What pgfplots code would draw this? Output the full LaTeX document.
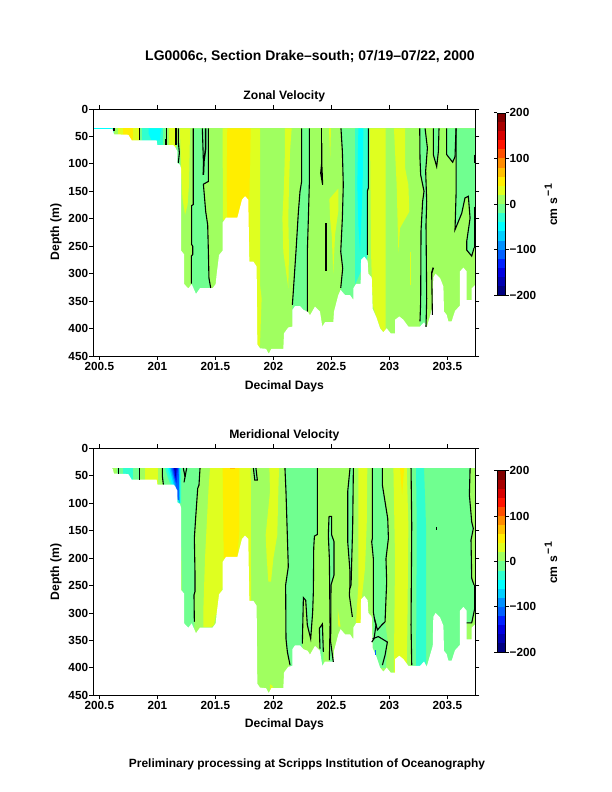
\documentclass[border=0pt]{standalone}
\usepackage{pgfplots}
\usepackage{pgfplotstable}
\usepackage{fontspec}
\setmainfont{Liberation Sans}
\pgfplotsset{compat=1.18}
\definecolor{cT}{HTML}{7F0000}\definecolor{cS}{HTML}{A80000}\definecolor{cR}{HTML}{D80000}
\definecolor{cQ}{HTML}{FF1400}\definecolor{cP}{HTML}{FF5000}\definecolor{cO}{HTML}{FF8C00}
\definecolor{cN}{HTML}{FFC000}\definecolor{Yb}{HTML}{FFEE00}\definecolor{Ya}{HTML}{DFFF20}
\definecolor{cA}{HTML}{A0FF60}\definecolor{cB}{HTML}{70FF90}\definecolor{cC}{HTML}{30FFCF}
\definecolor{cD}{HTML}{00FFFF}\definecolor{cE}{HTML}{00CFFF}\definecolor{cF}{HTML}{0090FF}
\definecolor{cG}{HTML}{0060FF}\definecolor{cH}{HTML}{0020FF}\definecolor{cI}{HTML}{0000E0}
\definecolor{cJ}{HTML}{0000B0}\definecolor{cK}{HTML}{000080}
\pgfplotstableread{
day depth
200.448 36.5
200.600 36.8
200.615 37
200.626 46
200.750 47
200.779 57
200.994 57
201.000 66
201.138 66
201.152 69
201.172 77
201.172 98.5
201.195 101.5
201.204 108
201.204 258
201.230 264.5
201.230 318.7
201.267 327
201.296 319
201.333 337
201.368 326.5
201.477 326.5
201.503 319
201.511 302
201.532 266
201.563 258
201.563 207
201.592 198
201.690 198
201.707 184
201.730 165
201.756 159
201.784 165
201.793 278
201.828 278
201.856 287
201.862 429
201.885 436
201.937 437
201.960 446
201.983 437
202.086 437
202.092 408.6
202.129 398
202.164 396.5
202.164 366
202.187 359
202.230 359
202.259 366
202.296 369
202.316 376
202.359 360
202.402 369
202.422 396.5
202.445 388.5
202.517 388.5
202.523 369
202.560 339
202.580 329.6
202.618 339
202.661 339
202.690 348
202.690 326.6
202.713 318.7
202.753 318.7
202.756 275
202.784 269
202.813 277
202.819 300
202.848 307
202.856 364
202.891 381
202.920 399.5
202.948 407
202.977 399.5
203.011 408.6
203.049 408.6
203.049 384
203.086 378
203.121 384
203.164 396.5
203.264 396.5
203.299 388.5
203.322 398
203.374 360
203.379 307
203.399 300
203.437 308
203.466 323.5
203.471 369
203.494 375
203.509 387
203.537 387
203.566 368
203.609 358
203.609 296
203.638 289
203.667 296
203.667 348
203.710 348
203.710 326.6
203.741 320.5
203.741 450
200.448 450
}\maskdata
\newcommand{\fp}[2]{\addplot[draw=none,fill=#1,forget plot] coordinates {#2} -- cycle;}
\newcommand{\cl}[1]{\addplot[black,line width=1.1bp,forget plot] coordinates {#1};}
\newcommand{\clb}[1]{\addplot[black,line width=1.5bp,forget plot] coordinates {#1};}
\newcommand{\bnd}[3]{\addplot[draw=none,fill=#1,forget plot] coordinates {(0,#2)(1,#2)(1,#3)(0,#3)} -- cycle;}
\newcommand{\tfont}{\bfseries\fontsize{11.8}{12}\selectfont}
\newcommand{\lfont}{\bfseries\fontsize{12.2}{13}\selectfont}
\newcommand{\cmunit}{cm s\,\raisebox{0.42em}{\fontsize{10.5}{11}\selectfont −1}}
\pgfplotsset{
 panel/.style={scale only axis,width=382bp,height=247bp,anchor=south west,
  xmin=200.448,xmax=203.741,ymin=0,ymax=450,y dir=reverse,axis on top,
  axis line style={line width=0.8bp},tick style={black,line width=0.8bp},major tick length=4bp,
  tick align=outside,
  xtick={200.5,201,201.5,202,202.5,203,203.5},
  xticklabels={200.5,201,201.5,202,202.5,203,203.5},
  ytick={0,50,100,150,200,250,300,350,400,450},
  yticklabels={0,50,100,150,200,250,300,350,400,450},
  xticklabel pos=lower,
  tick label style={font=\tfont,inner sep=1bp},
  xticklabel style={yshift=-1bp},
 },
 cbar/.style={scale only axis,width=8.5bp,anchor=south west,
  xmin=0,xmax=1,ymin=-200,ymax=200,xtick=\empty,axis on top,
  axis line style={line width=0.5bp},tick style={black,line width=0.8bp},major tick length=3bp,
  tick align=outside,ytick={-200,-100,0,100,200},
  yticklabels={−200,−100,0,100,200},yticklabel pos=right,
  tick label style={font=\tfont,inner sep=1bp},
 }
}
\newcommand{\cbarfill}{%
 \bnd{cK}{-200}{-180}\bnd{cJ}{-180}{-160}\bnd{cI}{-160}{-140}\bnd{cH}{-140}{-120}
 \bnd{cG}{-120}{-100}\bnd{cF}{-100}{-80}\bnd{cE}{-80}{-60}\bnd{cD}{-60}{-40}
 \bnd{cC}{-40}{-20}\bnd{cB}{-20}{0}\bnd{cA}{0}{20}\bnd{Ya}{20}{40}
 \bnd{Yb}{40}{60}\bnd{cN}{60}{80}\bnd{cO}{80}{100}\bnd{cP}{100}{120}
 \bnd{cQ}{120}{140}\bnd{cR}{140}{160}\bnd{cS}{160}{180}\bnd{cT}{180}{200}}
\begin{document}
\begin{tikzpicture}[x=1bp,y=1bp]
\path[use as bounding box] (0,0) rectangle (612,792);
% ---------- Zonal
\begin{axis}[panel,at={(93.3bp,436bp)}]
\fp{cA}{(200.448,35.3)(203.741,35.3)(203.741,450)(200.448,450)}
\fp{cD}{(200.448,35.3)(200.6,35.3)(200.6,37)(200.448,37)}
\fp{cC}{(200.598,35.3)(200.627,35.3)(200.627,50)(200.598,50)}
\fp{Ya}{(200.664,35.3)(200.845,35.3)(200.845,70)(200.664,70)}
\fp{Yb}{(200.707,35.3)(200.793,35.3)(200.793,70)(200.707,70)}
\fp{cB}{(200.85,35.3)(201.075,35.3)(201.075,70)(200.85,70)}
\fp{cC}{(200.865,35.3)(201.05,35.3)(201.05,70)(200.865,70)}
\fp{cD}{(200.925,35.3)(200.925,45)(200.95,57)(201.02,57)(201.03,40)(201.037,35.3)}
\fp{Ya}{(201.10,35.3)(201.16,35.3)(201.16,70)(201.10,70)}
\fp{cB}{(201.165,62)(201.19,62)(201.2,110)(201.17,110)}
\fp{Ya}{(201.195,35.3)(201.204,107.6)(201.216,162)(201.239,193)(201.261,174.5)(201.273,138)(201.282,35.3)}
\fp{cB}{(201.31,35.3)(201.31,174)(201.296,176)(201.296,247)(201.305,250)(201.305,265)(201.293,268)(201.293,340)(201.46,340)(201.46,326)(201.445,308)(201.44,260)(201.434,211)(201.417,187)(201.397,137)(201.44,132)(201.44,35.3)}
\fp{Ya}{(201.563,35.3)(201.565,200)(201.75,280)(201.85,432)(201.87,437)(201.885,430)(201.899,345)(201.885,320)(201.885,35.3)}
\fp{Yb}{(201.603,35.3)(201.598,138)(201.603,200)(201.72,250)(201.793,250)(201.793,165)(201.805,35.3)}
\fp{Ya}{(202.100,35.3)(202.100,77)(202.092,138)(202.078,199)(202.086,260)(202.129,326.6)(202.135,260)(202.129,199)(202.135,138)(202.144,77)(202.158,35.3)}
\fp{cB}{(202.244,35.3)(202.244,132)(202.23,150)(202.216,187)(202.195,260)(202.172,333)(202.164,357)(202.164,380)(202.293,380)(202.293,260)(202.302,199)(202.31,138)(202.31,35.3)}
\fp{Ya}{(202.48,35.3)(202.497,35.3)(202.49,89)}
\fp{Ya}{(202.483,164)(202.56,145)(202.56,186)(202.532,229)(202.517,300)(202.503,229)(202.489,199)}
\fp{cB}{(202.583,35.3)(202.595,77)(202.603,138)(202.595,199)(202.581,260)(202.598,290)(202.581,326)(202.581,345)(202.81,345)(202.81,150)(202.819,144)(202.819,35.3)}
\fp{cC}{(202.704,35.3)(202.704,320)(202.81,270)(202.81,150)(202.819,144)(202.819,35.3)}
\fp{cD}{(202.733,35.3)(202.724,138)(202.733,211)(202.747,260)(202.757,211)(202.77,138)(202.776,35.3)}
\fp{Ya}{(202.833,35.3)(202.842,260)(202.856,357)(202.891,381)(202.925,400)(202.968,410)(202.968,35.3)}
\fp{Ya}{(203.04,35.3)(203.049,77)(203.063,138)(203.078,262)(203.092,217)(203.172,187)(203.164,138)(203.135,107)(203.135,35.3)}
\fp{Ya}{(203.178,260)(203.187,260)(203.187,320)(203.178,320)}
\fp{cB}{(203.262,35.3)(203.264,89)(203.27,120)(203.299,150)(203.287,168)(203.273,222)(203.27,351)(203.264,387)(203.264,400)(203.316,400)(203.322,345)(203.316,211)(203.322,168)(203.313,113)(203.328,71)(203.308,35.3)}
\fp{cB}{(203.379,35.3)(203.379,83)(203.408,105)(203.423,77)(203.428,35.3)}
\fp{cB}{(203.494,35.3)(203.494,83)(203.546,97)(203.566,87)(203.575,35.3)}
\fp{cB}{(203.575,35.3)(203.575,156)(203.566,220)(203.624,190)(203.652,162)(203.681,159)(203.696,199)(203.667,241)(203.667,257)(203.71,268)(203.73,253)(203.741,247)(203.741,35.3)}
\addplot[draw=none,fill=white,forget plot] table[x=day,y=depth] {\maskdata} -- cycle;
\cl{(200.626,35.3)(200.626,41)}
\cl{(200.845,35.3)(200.845,56)}
\cl{(201.08,35.3)(201.08,55)(201.075,55)(201.075,66)}
\cl{(201.161,35.3)(201.161,66)}
\cl{(201.181,35.3)(201.181,60)(201.19,80)(201.181,98)}
\cl{(201.31,35.3)(201.31,174)(201.296,176)(201.296,247)(201.305,250)(201.305,265)(201.293,268)(201.293,318)}
\cl{(201.44,35.3)(201.44,132)(201.397,137)(201.417,187)(201.434,211)(201.44,260)(201.445,308)(201.46,326)}
\cl{(201.388,35.3)(201.397,95)(201.397,120)}
\clb{(201.417,35.3)(201.417,71)(201.402,95)(201.397,120)}
\cl{(202.244,35.3)(202.244,132)(202.23,150)(202.216,187)(202.195,260)(202.172,333)(202.164,357)}
\cl{(202.31,35.3)(202.31,138)(202.302,199)(202.293,260)(202.293,369)}
\clb{(202.417,35.3)(202.417,62)}
\cl{(202.417,62)(202.417,98)(202.408,117)(202.425,138)(202.42,110)(202.417,98)}
\clb{(202.454,208)(202.454,296)}
\cl{(202.583,35.3)(202.595,77)(202.603,138)(202.595,199)(202.581,260)(202.598,290)(202.581,326)}
\cl{(202.819,35.3)(202.819,144)(202.81,150)(202.81,266)}
\cl{(203.262,35.3)(203.264,89)(203.27,120)(203.299,150)(203.287,168)(203.273,222)(203.27,351)(203.264,387)}
\cl{(203.308,35.3)(203.328,71)(203.313,113)(203.322,168)(203.316,211)(203.322,345)(203.316,397)}
\cl{(203.379,35.3)(203.379,83)(203.408,105)(203.423,77)(203.428,35.3)}
\clb{(203.379,289)(203.365,299)}
\cl{(203.365,299)(203.371,375)}
\cl{(203.494,35.3)(203.494,83)(203.546,97)(203.566,87)(203.575,35.3)}
\cl{(203.575,35.3)(203.575,156)(203.566,220)(203.624,190)(203.652,162)(203.681,159)(203.696,199)(203.667,241)(203.667,257)(203.71,268)(203.73,253)}
\clb{(203.736,83)(203.736,98.5)}
\clb{(203.736,178)(203.736,253)}
\end{axis}
% ---------- Meridional
\begin{axis}[panel,at={(93.3bp,96.7bp)}]
\fp{cA}{(200.612,36)(203.741,36)(203.741,450)(200.612,450)}
\fp{cB}{(200.649,36)(200.845,36)(200.845,75)(200.649,75)}
\fp{cC}{(200.707,36)(200.793,36)(200.793,75)(200.707,75)}
\fp{Ya}{(200.894,36)(201.009,36)(201.009,75)(200.894,75)}
\fp{cB}{(201.043,36)(201.052,75)(201.2,110)(201.22,340)(201.319,340)(201.319,316)(201.316,267)(201.325,261)(201.325,231)(201.319,164)(201.33,128)(201.348,73)(201.359,67)(201.368,36)}
\fp{cC}{(201.066,36)(201.089,52)(201.115,67)(201.172,100)(201.204,100)(201.204,36)}
\fp{cD}{(201.089,36)(201.124,64)(201.167,82)(201.195,100)(201.195,36)}
\fp{cE}{(201.103,36)(201.138,64)(201.17,88)(201.193,100)(201.193,36)}
\fp{cF}{(201.115,36)(201.152,67)(201.172,82)(201.19,100)(201.187,36)}
\fp{cG}{(201.124,36)(201.158,64)(201.175,94)(201.187,94)(201.184,36)}
\fp{cH}{(201.135,36)(201.147,52)(201.164,64)(201.17,52)(201.178,36)}
\fp{cJ}{(201.144,36)(201.158,55)(201.167,36)}
\fp{Ya}{(201.454,36)(201.44,79)(201.411,201)(201.397,292)(201.397,326)(201.46,326)(201.489,322)(201.503,304)(201.526,298)(201.54,268)(201.563,255)(201.583,201)(201.583,79)(201.563,36)}
\fp{Ya}{(201.563,36)(201.583,201)(201.793,280)(201.808,280)(201.805,36)}
\fp{Yb}{(201.563,36)(201.572,200)(201.69,200)(201.707,150)(201.707,36)}
\fp{cN}{(201.626,36)(201.67,36)(201.67,37.5)(201.626,37.5)}
\fp{cB}{(201.828,36)(201.84,58)(201.862,58)(201.85,36)}
\fp{Ya}{(201.966,36)(201.971,79)(201.934,158)(201.943,201)(201.957,243)(201.98,243)(202.0,201)(202.034,158)(202.043,79)(202.049,36)}
\fp{Ya}{(201.97,430)(201.99,432)(202.0,437)(201.97,440)}
\fp{cB}{(202.1,36)(202.109,79)(202.129,216)(202.106,249)(202.109,347)(202.121,371)(202.144,395)(202.144,400)(202.25,400)(202.25,356)(202.259,272)(202.279,277)(202.293,322)(202.322,347)(202.339,298)(202.345,261)(202.348,182)(202.354,160)(202.379,157)(202.379,36)}
\fp{cB}{(202.402,365)(202.397,328)(202.423,320)(202.431,371)(202.431,400)(202.402,400)}
\fp{cB}{(202.48,124)(202.474,158)(202.483,201)(202.489,322)(202.483,386)(202.483,400)(202.517,400)(202.517,389)(202.494,353)(202.497,249)(202.523,231)(202.523,170)(202.503,158)(202.503,124)}
\fp{Ya}{(202.555,292)(202.56,325)(202.58,325)}
\fp{cB}{(202.661,36)(202.641,79)(202.641,170)(202.661,225)(202.661,255)(202.67,249)(202.684,140)(202.69,36)}
\fp{Ya}{(202.733,36)(202.733,249)(202.713,316)(202.753,340)(202.762,274)(202.79,219)(202.805,140)(202.81,36)}
\fp{cB}{(202.854,36)(202.854,164)(202.848,170)(202.862,201)(202.862,298)(202.856,360)(202.9,400)(202.97,400)(202.985,350)(202.963,316)(202.977,243)(202.971,201)(202.992,164)(202.986,128)(202.94,67)(202.94,36)}
\fp{Ya}{(203.035,36)(203.049,201)(203.04,383)(203.04,420)(203.15,420)(203.15,383)(203.155,334)(203.164,140)(203.15,36)}
\fp{Yb}{(203.092,36)(203.11,85)(203.127,36)}
\fp{cB}{(203.187,36)(203.193,140)(203.187,322)(203.193,395)(203.2,420)(203.667,420)(203.667,318)(203.71,318)(203.736,292)(203.73,249)(203.71,237)(203.704,167)(203.724,146)(203.71,134)(203.69,85)(203.696,36)}
\fp{cC}{(203.23,36)(203.236,140)(203.23,420)(203.316,420)(203.316,140)(203.299,36)}
\addplot[draw=none,fill=white,forget plot] table[x=day,y=depth] {\maskdata} -- cycle;
\cl{(200.664,36)(200.664,46)}
\cl{(200.845,36)(200.845,57)}
\cl{(201.043,36)(201.043,50)(201.052,66)}
\cl{(201.224,36)(201.239,52)(201.23,62)}
\cl{(201.253,36)(201.239,52)}
\cl{(201.368,36)(201.359,67)(201.348,73)(201.33,128)(201.319,164)(201.325,231)(201.325,261)(201.316,267)(201.319,316)}
\cl{(201.828,36)(201.84,58)(201.862,58)(201.85,36)}
\cl{(202.1,36)(202.109,79)(202.129,216)(202.106,249)(202.109,347)(202.121,371)(202.144,395)}
\cl{(202.379,36)(202.379,157)(202.354,160)(202.348,182)(202.345,261)(202.339,298)(202.322,347)(202.293,322)(202.279,277)(202.259,272)(202.25,356)}
\cl{(202.402,365)(202.397,328)(202.423,320)(202.431,371)}
\cl{(202.48,124)(202.474,158)(202.483,201)(202.489,322)(202.483,386)}
\cl{(202.48,124)(202.503,124)(202.503,158)(202.523,170)(202.523,231)(202.497,249)(202.494,353)(202.517,389)}
\cl{(202.661,36)(202.641,79)(202.641,170)(202.661,225)(202.661,249)(202.655,267)(202.681,307)}
\cl{(202.69,36)(202.684,140)(202.67,249)(202.661,255)}
\cl{(202.854,36)(202.854,164)(202.848,170)(202.862,201)(202.862,298)(202.871,310)(202.885,322)(202.868,347)(202.848,353)}
\cl{(202.871,310)(202.897,331)(202.934,322)(202.963,316)}
\cl{(202.856,347)(202.905,343)(202.983,353)(202.963,377)(202.94,395)}
\cl{(202.94,36)(202.94,67)(202.986,128)(202.992,164)(202.971,201)(202.977,243)(202.963,316)}
\addplot[cG,line width=1bp,forget plot] coordinates {(202.88,368)(202.88,377)};
\cl{(203.187,36)(203.193,140)(203.187,322)(203.193,395)}
\cl{(203.696,36)(203.69,85)(203.71,134)(203.724,146)(203.704,167)(203.71,237)(203.73,249)}
\clb{(203.736,249)(203.736,292)}
\cl{(203.667,318)(203.71,318)(203.736,292)}
\addplot[black,line width=0.7bp,forget plot] coordinates {(203.402,143)(203.402,149)};
\end{axis}
% ---------- colour bars
\begin{axis}[cbar,height=182.4bp,at={(497bp,496.7bp)}]
\cbarfill
\end{axis}
\begin{axis}[cbar,height=181.6bp,at={(497bp,139.7bp)}]
\cbarfill
\end{axis}
% ---------- text
\node[font=\bfseries\fontsize{14}{15}\selectfont] at (310,735) {LG0006c, Section Drake–south; 07/19–07/22, 2000};
\node[font=\lfont] at (284.3,696) {Zonal Velocity};
\node[font=\lfont] at (284.3,357) {Meridional Velocity};
\node[font=\lfont] at (284.3,406) {Decimal Days};
\node[font=\lfont] at (284.3,68) {Decimal Days};
\node[font=\lfont,rotate=90] at (56,560) {Depth (m)};
\node[font=\lfont,rotate=90] at (56,220) {Depth (m)};
\node[font=\lfont,rotate=90] at (551,587) {\cmunit};
\node[font=\lfont,rotate=90] at (551,229) {\cmunit};
\node[font=\bfseries\fontsize{12}{13}\selectfont] at (307,28) {Preliminary processing at Scripps Institution of Oceanography};
\end{tikzpicture}
\end{document}
